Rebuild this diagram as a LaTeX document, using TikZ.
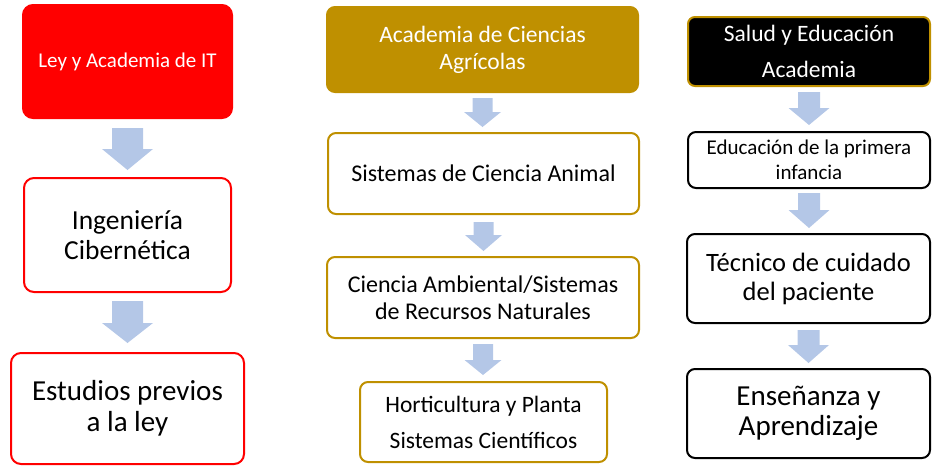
\documentclass[tikz,border=0pt]{standalone}
\usepackage{fontspec}
\setmainfont{Carlito}
\usetikzlibrary{calc}
\definecolor{gold}{HTML}{BF9000}
\definecolor{arrowblue}{HTML}{B4C7E7}
\definecolor{hred}{HTML}{FF0000}
\tikzset{
  box/.style={rectangle, rounded corners=10pt, inner sep=0pt, align=center, line width=2pt},
  redhead/.style={box, fill=hred, draw=hred, text=white},
  redbox/.style={box, draw=hred, fill=white, text=black},
  goldhead/.style={box, rounded corners=8pt, fill=gold, draw=gold, text=white},
  goldbox/.style={box, rounded corners=8pt, draw=gold, fill=white, text=black},
  blackhead/.style={box, rounded corners=7pt, fill=black, draw=gold, text=white},
  blackbox/.style={box, rounded corners=8pt, draw=black, fill=white, text=black},
}
% #1 upper node, #2 lower node, #3 top gap, #4 bottom gap, #5 shaft half width, #6 head half width, #7 head length
\newcommand\flowarrow[7]{%
  \fill[arrowblue] let \p1=(#1.south), \p2=(#2.north) in
    (\x1-#5pt,\y1-#3pt) -- (\x1+#5pt,\y1-#3pt) -- (\x1+#5pt,\y2+#4pt+#7pt)
    -- (\x1+#6pt,\y2+#4pt+#7pt) -- (\x1,\y2+#4pt) -- (\x1-#6pt,\y2+#4pt+#7pt)
    -- (\x1-#5pt,\y2+#4pt+#7pt) -- cycle;}
\begin{document}
\begin{tikzpicture}[x=1pt,y=-1pt]
\useasboundingbox (0,0) rectangle (932,467);
% left column
\node[redhead, minimum width=209pt, minimum height=113pt, font=\fontsize{21}{25}\selectfont] (L1) at (127.5,61.5) {Ley y Academia de IT};
\node[redbox, minimum width=207pt, minimum height=114pt, font=\fontsize{27.5}{30}\selectfont] (L2) at (127.5,235) {Ingeniería\\Cibernética};
\node[redbox, minimum width=233pt, minimum height=111pt, font=\fontsize{29}{31}\selectfont] (L3) at (127.5,408.5) {Estudios previos\\a la ley};
% middle column
\node[goldhead, minimum width=311pt, minimum height=85pt, font=\fontsize{23.5}{27}\selectfont] (M1) at (482.5,49.5) {Academia de Ciencias\\Agrícolas};
\node[goldbox, minimum width=311pt, minimum height=81pt, font=\fontsize{24}{28}\selectfont] (M2) at (483.5,173.5) {Sistemas de Ciencia Animal};
\node[goldbox, minimum width=312pt, minimum height=81pt, font=\fontsize{24}{26.5}\selectfont] (M3) at (483,297.5) {Ciencia Ambiental/Sistemas\\de Recursos Naturales};
\node[goldbox, minimum width=247pt, minimum height=80pt, font=\fontsize{23.5}{36}\selectfont] (M4) at (483.5,422) {Horticultura y Planta\\Sistemas Científicos};
% right column
\node[blackhead, minimum width=242pt, minimum height=69pt, font=\fontsize{23.5}{36}\selectfont] (R1) at (809,51.5) {Salud y Educación\\Academia};
\node[blackbox, minimum width=242pt, minimum height=56pt, font=\fontsize{21}{25}\selectfont] (R2) at (809,160) {Educación de la primera\\infancia};
\node[blackbox, minimum width=243pt, minimum height=89pt, font=\fontsize{26.5}{29}\selectfont] (R3) at (808.5,278.5) {Técnico de cuidado\\del paciente};
\node[blackbox, minimum width=243pt, minimum height=89pt, font=\fontsize{29}{30}\selectfont] (R4) at (808.5,413.5) {Enseñanza y\\Aprendizaje};
% arrows
\flowarrow{L1}{L2}{9}{7}{15.5}{25.5}{21}
\flowarrow{L2}{L3}{8}{9}{15.5}{25.5}{20}
\flowarrow{M1}{M2}{5}{5}{10}{18.5}{15}
\flowarrow{M2}{M3}{7}{5}{10}{18.5}{16}
\flowarrow{M3}{M4}{5}{6}{10}{18.5}{15}
\flowarrow{R1}{R2}{5}{6}{11}{20.5}{17}
\flowarrow{R2}{R3}{4}{5}{11}{20.5}{18}
\flowarrow{R3}{R4}{6}{5}{11}{20.5}{18}
\end{tikzpicture}
\end{document}
